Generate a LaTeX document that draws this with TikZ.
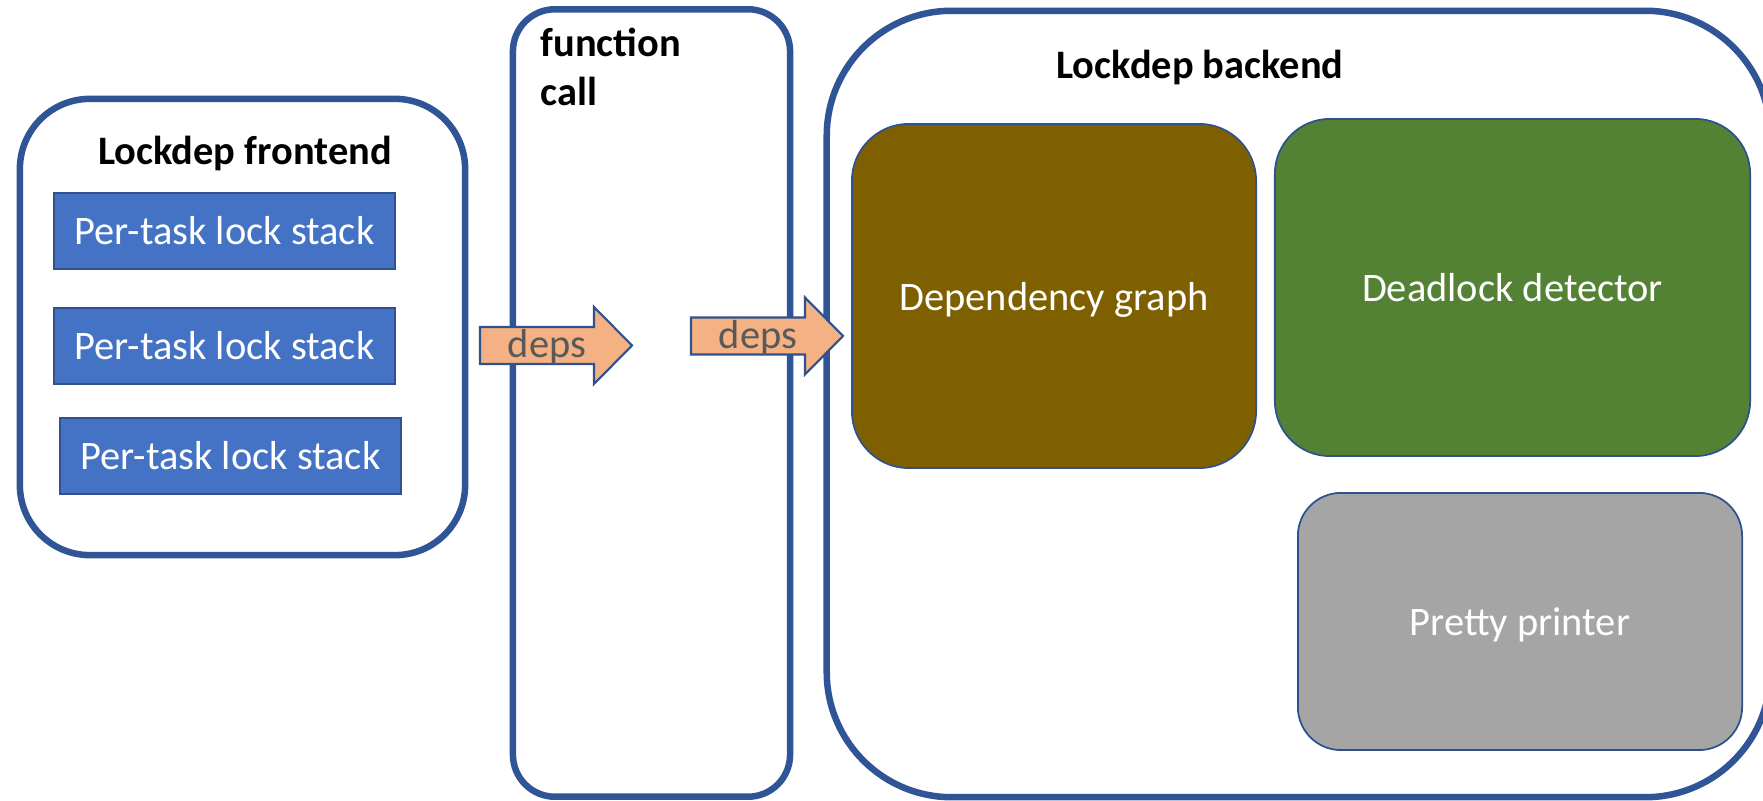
\documentclass[tikz,border=0pt]{standalone}
\usepackage{fontspec}
\setmainfont{Carlito}

\definecolor{frameblue}{HTML}{2F5597}
\definecolor{edgeblue}{HTML}{2F528F}
\definecolor{stackblue}{HTML}{4472C4}
\definecolor{depsfill}{HTML}{F4B183}
\definecolor{depsgray}{HTML}{595959}
\definecolor{graphbrown}{HTML}{7F6000}
\definecolor{detectgreen}{HTML}{548235}
\definecolor{printgray}{HTML}{A5A5A5}

\newcommand{\diagfont}{\fontsize{11.5}{13.9}\selectfont}

\tikzset{
  container/.style={draw=frameblue, line width=1.85pt, fill=white, inner sep=0pt},
  stackbox/.style={draw=edgeblue, line width=0.5pt, fill=stackblue, text=white,
    minimum width=3.41cm, minimum height=0.76cm, inner sep=0pt},
  partbox/.style={draw=edgeblue, line width=0.5pt, text=white, text depth=0pt, inner sep=0pt},
  titletext/.style={font=\diagfont\bfseries, inner sep=0pt},
  depsarrow/.style={draw=edgeblue, line width=0.6pt, fill=depsfill},
}

\begin{document}
\begin{tikzpicture}[x=0.01cm, y=-0.01cm, every node/.style={font=\diagfont}]
    % Page
    \clip (0,0) rectangle (1763,801);

    % Lockdep frontend
    \node[container, rounded corners=0.7cm, minimum width=4.45cm, minimum height=4.56cm] (front) at (242.5,327) {};
    \node[titletext, anchor=base] (fronttitle) at (245,165) {Lockdep frontend};
    \foreach \i/\x/\y in {1/224.5/231, 2/224.5/346, 3/230.5/456} {
        \node[stackbox] (stack\i) at (\x,\y) {Per-task lock stack};
    }

    % Function call
    \node[container, rounded corners=0.42cm, minimum width=2.77cm, minimum height=7.87cm] (call) at (651.5,403) {};
    \node[titletext, anchor=north west, align=left] (calltitle) at (540,27) {function\\call};

    % Lockdep backend
    \node[container, rounded corners=1.25cm, minimum width=9.43cm, minimum height=7.86cm] (back) at (1298.5,404) {};
    \node[titletext, anchor=base] (backtitle) at (1200,79) {Lockdep backend};
    \node[partbox, fill=graphbrown, rounded corners=0.57cm, minimum width=4.04cm, minimum height=3.44cm] (graph) at (1054,296) {Dependency graph};
    \node[partbox, fill=detectgreen, rounded corners=0.55cm, minimum width=4.75cm, minimum height=3.37cm] (detect) at (1512.5,287.5) {Deadlock detector};
    \node[partbox, fill=printgray, rounded corners=0.43cm, minimum width=4.44cm, minimum height=2.57cm] (printer) at (1520,621.5) {Pretty printer};

    % deps arrows
    \foreach \i/\x/\y in {1/480/345.5, 2/691/336} {
        \draw[depsarrow] (\x,\y) ++(0,-18.5) -- ++(114,0) -- ++(0,-20) -- ++(38,38.5)
            -- ++(-38,38.5) -- ++(0,-20) -- ++(-114,0) -- cycle;
        \node[anchor=base, text=depsgray, inner sep=0pt] (deps\i) at (\x+67,\y+12.5) {deps};
    }
\end{tikzpicture}
\end{document}
